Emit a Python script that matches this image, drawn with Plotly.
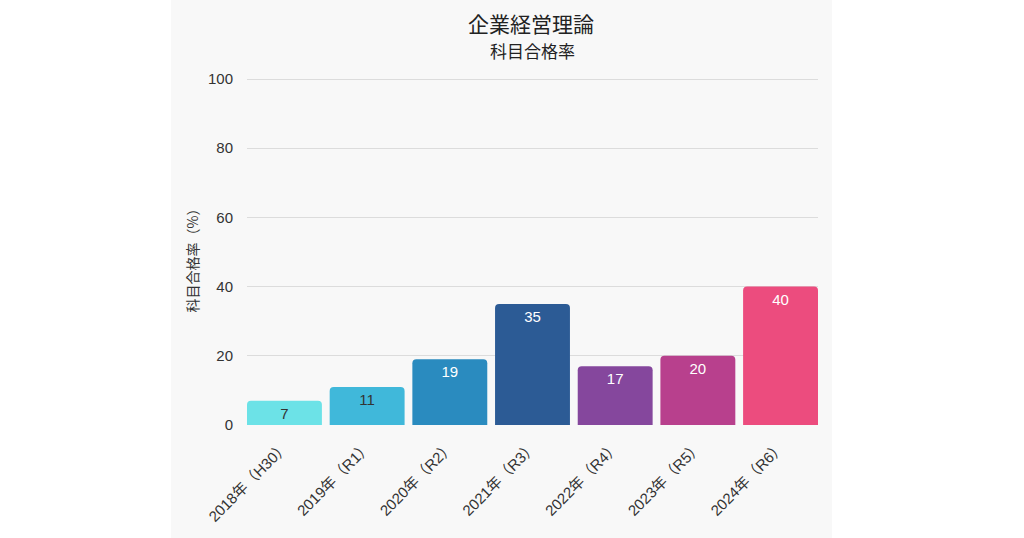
import plotly.graph_objects as go

categories = ["2018年（H30）", "2019年（R1）", "2020年（R2）", "2021年（R3）",
              "2022年（R4）", "2023年（R5）", "2024年（R6）"]
pass_rates = [7, 11, 19, 35, 17, 20, 40]
bar_colors = ["#6ce2e7", "#40b8da", "#2a8bbf", "#2c5b95", "#85479d", "#b8408d", "#ec4c7e"]
text_colors = ["#333333", "#333333", "#ffffff", "#ffffff", "#ffffff", "#ffffff", "#ffffff"]
y_ticks = [0, 20, 40, 60, 80, 100]

FONT = "Liberation Sans, Noto Sans CJK JP, sans-serif"
JP = "Noto Sans CJK JP, sans-serif"

W, H = 1024, 538
L, T = 247, 78
R = W - 818
B = H - 425
pw, ph = W - L - R, H - T - B

fig = go.Figure(go.Bar(
    x=categories,
    y=pass_rates,
    marker=dict(color=bar_colors, line=dict(width=0)),
    text=[str(v) for v in pass_rates],
    textposition="inside",
    insidetextanchor="end",
    textfont=dict(color=text_colors, size=15, family=FONT),
    textangle=0,
    hoverinfo="skip",
))

fig.add_shape(type="rect", xref="paper", yref="paper",
              x0=(171 - L) / pw, x1=(832 - L) / pw,
              y0=-(B + 5) / ph, y1=1 + (T + 5) / ph,
              fillcolor="#f8f8f8", line=dict(width=0), layer="below")

def py(ypix):
    return 1 - (ypix - T) / ph

fig.add_annotation(text="企業経営理論", xref="paper", yref="paper",
                   x=(531 - L) / pw, y=py(23), showarrow=False,
                   font=dict(size=21, color="#222222", family=JP),
                   xanchor="center", yanchor="middle")
fig.add_annotation(text="科目合格率", xref="paper", yref="paper",
                   x=(532 - L) / pw, y=py(51), showarrow=False,
                   font=dict(size=17, color="#222222", family=JP),
                   xanchor="center", yanchor="middle")
fig.add_annotation(text="科目合格率（%）", xref="paper", yref="paper",
                   x=(191.5 - L) / pw, y=py(257), showarrow=False, textangle=-90,
                   font=dict(size=14, color="#333333", family=JP),
                   xanchor="center", yanchor="middle")

fig.update_layout(
    width=W, height=H,
    margin=dict(l=L, r=R, t=T, b=B, pad=0),
    paper_bgcolor="#ffffff",
    plot_bgcolor="rgba(0,0,0,0)",
    showlegend=False,
    bargap=0.094,
    barcornerradius=4,
    font=dict(family=FONT, color="#333333"),
    xaxis=dict(
        range=[-0.453, 6.453],
        tickangle=-45,
        tickfont=dict(size=15, color="#333333", family=FONT),
        showgrid=False, zeroline=False, showline=False,
        ticks="outside", ticklen=6, tickcolor="rgba(0,0,0,0)",
        fixedrange=True,
    ),
    yaxis=dict(
        range=[0, 100.3],
        tickvals=y_ticks,
        tickfont=dict(size=15, color="#333333", family=FONT),
        showgrid=True, gridcolor="#dcdcdc", gridwidth=1,
        zeroline=False, showline=False,
        ticks="outside", ticklen=10, tickcolor="rgba(0,0,0,0)",
        fixedrange=True,
    ),
)

fig.write_html(
    "out.html",
    config={"displayModeBar": False},
    post_script="document.body.style.margin='0';document.body.style.overflow='hidden';",
)
